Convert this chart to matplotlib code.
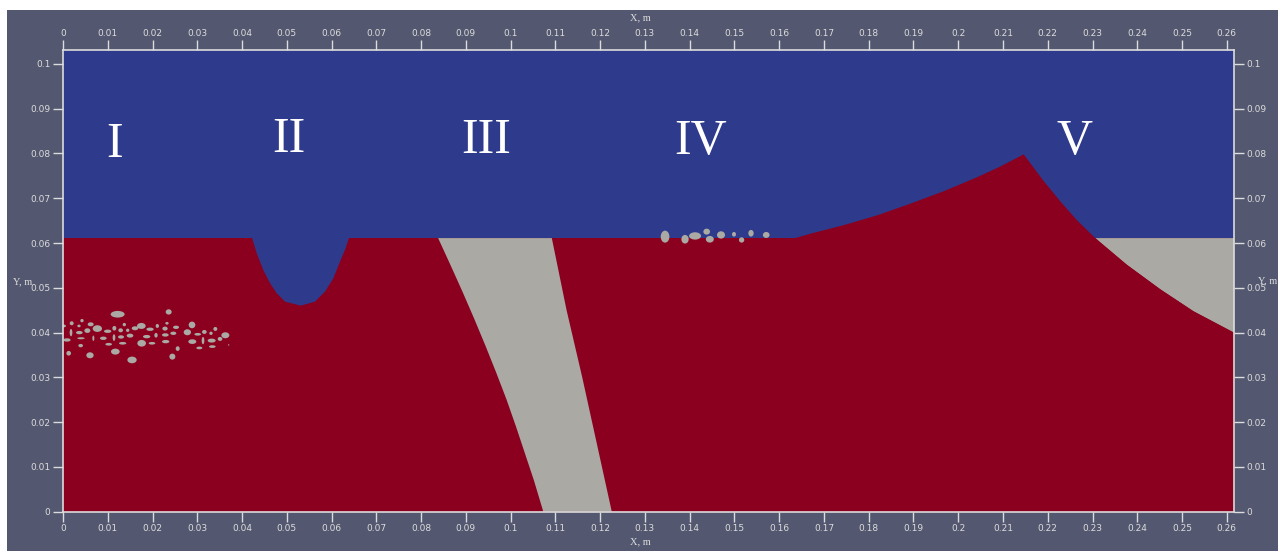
import matplotlib
matplotlib.use("Agg")
import matplotlib.pyplot as plt
from matplotlib.patches import Ellipse, Rectangle, Polygon
import numpy as np

# расчётная область, м
x_max = 0.2616
y_max = 0.1031
surface = 0.0611

# II - каверна
crater_x = [0.04216, 0.04328, 0.04475, 0.04625, 0.04774, 0.04960, 0.05311,
            0.05630, 0.05853, 0.06039, 0.06188, 0.06300, 0.06396]
crater_y = [0.06107, 0.05772, 0.05395, 0.05102, 0.04879, 0.04691, 0.04601,
            0.04691, 0.04914, 0.05212, 0.05584, 0.05846, 0.06107]

# III - наклонная полоса
band_left_x = [0.0838, 0.0866, 0.0893, 0.0919, 0.0944, 0.0968, 0.0991, 0.1012, 0.1032, 0.1052, 0.1073]
band_left_y = [0.0611, 0.0550, 0.0490, 0.0430, 0.0370, 0.0310, 0.0250, 0.0190, 0.0130, 0.0070, 0.0]
band_right_x = [0.1092, 0.1125, 0.1160, 0.1193, 0.1226]
band_right_y = [0.0611, 0.0450, 0.0300, 0.0150, 0.0]

# V - вал
mound_x = [0.1600, 0.1631, 0.1669, 0.1743, 0.1818, 0.1892, 0.1967, 0.2041, 0.2093, 0.2145,
           0.2190, 0.2227, 0.2265, 0.2306, 0.2376, 0.2451, 0.2525, 0.2616]
mound_y = [0.0611, 0.0611, 0.0622, 0.0641, 0.0663, 0.0689, 0.0717, 0.0748, 0.0772, 0.0799,
           0.0739, 0.0694, 0.0651, 0.0611, 0.0552, 0.0497, 0.0448, 0.0400]

# пузыри, мм: центр x, центр y, ширина, высота
bub_x = [12.21, 23.61, 0.22, 1.94, 4.24, 3.57, 6.18, 1.79, 3.65, 5.44, 7.67, 9.98, 11.47, 13.70,
         12.88, 14.45, 16.09, 17.50, 19.44, 21.07, 23.23, 22.79, 25.25, 28.82, 27.78, 30.09, 31.58,
         33.06, 34.03, 36.27, 35.08, 37.01, 0.89, 4.02, 6.78, 9.01, 11.39, 12.96, 14.97, 18.69,
         20.78, 22.86, 24.65, 13.33, 10.20, 3.95, 17.57, 19.88, 22.94, 28.89, 31.28, 33.21, 30.46,
         33.36, 25.62, 1.27, 6.03, 11.69, 15.42, 24.43,
         134.5, 138.96, 141.2, 143.8, 144.5, 147.0, 149.9, 151.6, 153.7, 157.1]
bub_y = [44.09, 44.61, 41.48, 42.08, 42.67, 41.48, 41.85, 39.99, 39.99, 40.44, 40.89, 40.29, 40.96,
         41.78, 40.51, 40.51, 40.96, 41.48, 40.74, 41.48, 42.08, 40.89, 41.18, 41.71, 40.07, 39.62,
         40.14, 39.84, 40.81, 39.40, 38.58, 37.24, 38.35, 38.73, 38.73, 38.73, 38.88, 39.02, 39.32,
         39.10, 39.40, 39.47, 39.84, 37.61, 37.39, 37.09, 37.61, 37.61, 37.98, 37.98, 38.21, 38.21,
         36.57, 36.87, 36.42, 35.38, 34.93, 35.75, 33.89, 34.63,
         61.42, 60.84, 61.58, 62.54, 60.84, 61.80, 61.95, 60.68, 62.18, 61.80]
bub_w = [3.13, 1.34, 0.89, 0.89, 0.75, 0.75, 1.34, 0.60, 1.49, 1.34, 2.09, 1.64, 0.89, 0.75, 1.04,
         0.75, 1.49, 1.94, 1.64, 0.75, 0.75, 1.19, 1.34, 1.49, 1.64, 1.49, 1.04, 0.75, 0.89, 1.79,
         1.04, 0.30, 1.64, 1.64, 0.45, 1.49, 0.60, 1.34, 1.49, 1.64, 0.75, 1.49, 1.34, 1.64, 1.49,
         1.04, 1.94, 1.49, 1.64, 1.79, 0.60, 1.79, 1.34, 1.49, 0.89, 1.04, 1.64, 1.94, 2.09, 1.34,
         1.94, 1.64, 2.68, 1.49, 1.79, 1.79, 0.89, 1.19, 1.19, 1.49]
bub_h = [1.49, 1.19, 0.60, 0.89, 0.75, 0.60, 0.89, 1.64, 0.75, 1.04, 1.49, 0.75, 1.04, 0.75, 0.89,
         0.75, 0.89, 1.34, 0.75, 0.89, 0.60, 0.89, 0.75, 1.49, 1.34, 0.60, 0.89, 0.75, 0.89, 1.34,
         0.89, 0.30, 0.75, 0.45, 1.19, 0.75, 1.49, 0.75, 0.89, 0.75, 1.04, 0.75, 0.75, 0.60, 0.60,
         0.75, 1.49, 0.60, 0.75, 1.04, 1.64, 0.89, 0.60, 0.60, 1.04, 1.04, 1.34, 1.34, 1.49, 1.34,
         2.68, 1.94, 1.64, 1.34, 1.49, 1.64, 1.04, 1.19, 1.49, 1.34]

# подписи зон
zone_names = ["I", "II", "III", "IV", "V"]
zone_x = [0.0116, 0.0505, 0.0945, 0.1425, 0.2259]
zone_y = [0.0791, 0.0803, 0.0801, 0.0799, 0.0799]

xticks = np.arange(0, 0.265, 0.01)
yticks = np.arange(0, 0.105, 0.01)

blue = "#2e3a8c"
red = "#8b001e"
grey = "#aaa9a4"
bg = "#535870"
fg = "#dcdcdc"

fig = plt.figure(figsize=(12.78, 5.51), dpi=100, facecolor="white")
fig.patches.append(Rectangle((7 / 1278, 0), 1, 541 / 551, transform=fig.transFigure,
                             facecolor=bg, edgecolor="none", zorder=-10))
ax = fig.add_axes([63 / 1278, 39.3 / 551, 1171 / 1278, 461.7 / 551])
ax.set_facecolor(blue)

# жидкость под поверхностью
ax.fill_between([0, x_max], 0, surface, color=red, lw=0)
# каверна
cy = np.array(crater_y)
cy[0] += 0.0003
cy[-1] += 0.0003
ax.add_patch(Polygon(list(zip(crater_x, cy)), closed=True, facecolor=blue, edgecolor="none"))
# полоса
band = list(zip(band_left_x, band_left_y)) + list(zip(band_right_x[::-1], band_right_y[::-1]))
ax.add_patch(Polygon(band, closed=True, facecolor=grey, edgecolor="none"))
# вал
mx = np.array(mound_x)
my = np.array(mound_y)
ax.fill_between(mx, my, surface, where=my <= surface + 1e-6, color=grey, lw=0, interpolate=True)
ax.fill_between(mx, surface - 0.0005, my, where=my >= surface - 1e-6, color=red, lw=0, interpolate=True)
ax.fill_between(mx[mx > 0.2300], 0, my[mx > 0.2300], color=red, lw=0)

for bx, by, bw, bh in zip(bub_x, bub_y, bub_w, bub_h):
    ax.add_patch(Ellipse((bx / 1000, by / 1000), bw / 1000, bh / 1000, facecolor=grey, edgecolor="none"))

for name, zx, zy in zip(zone_names, zone_x, zone_y):
    ax.text(zx, zy, name, color="white", fontsize=36, family="Liberation Serif",
            ha="center", va="baseline")

ax.set_xlim(0, x_max)
ax.set_ylim(0, y_max)

def fmt(v):
    s = f"{v:.2f}".rstrip("0").rstrip(".")
    return s

ax.set_xticks(xticks)
ax.set_xticklabels([fmt(v) for v in xticks])
ax.set_yticks(yticks)
ax.set_yticklabels([fmt(v) for v in yticks])
ax.tick_params(axis="both", which="both", direction="out", length=7, width=1, color=fg,
               labelcolor=fg, labelsize=6.5, pad=2,
               top=True, right=True, labeltop=True, labelright=True)
for sp in ax.spines.values():
    sp.set_color(fg)
    sp.set_linewidth(1.2)

fig.text(640 / 1278, 1 - 18 / 551, "X, m", color=fg, fontsize=7.5, family="Liberation Serif",
         ha="center", va="center")
fig.text(640 / 1278, 1 - 542 / 551, "X, m", color=fg, fontsize=7.5, family="Liberation Serif",
         ha="center", va="center")
fig.text(23 / 1278, 1 - 282 / 551, "Y, m", color=fg, fontsize=7.5, family="Liberation Serif",
         ha="center", va="center")
fig.text(1268 / 1278, 1 - 281 / 551, "Y, m", color=fg, fontsize=7.5, family="Liberation Serif",
         ha="center", va="center")

plt.savefig("out.png", dpi=100, facecolor=fig.get_facecolor())
plt.close()
